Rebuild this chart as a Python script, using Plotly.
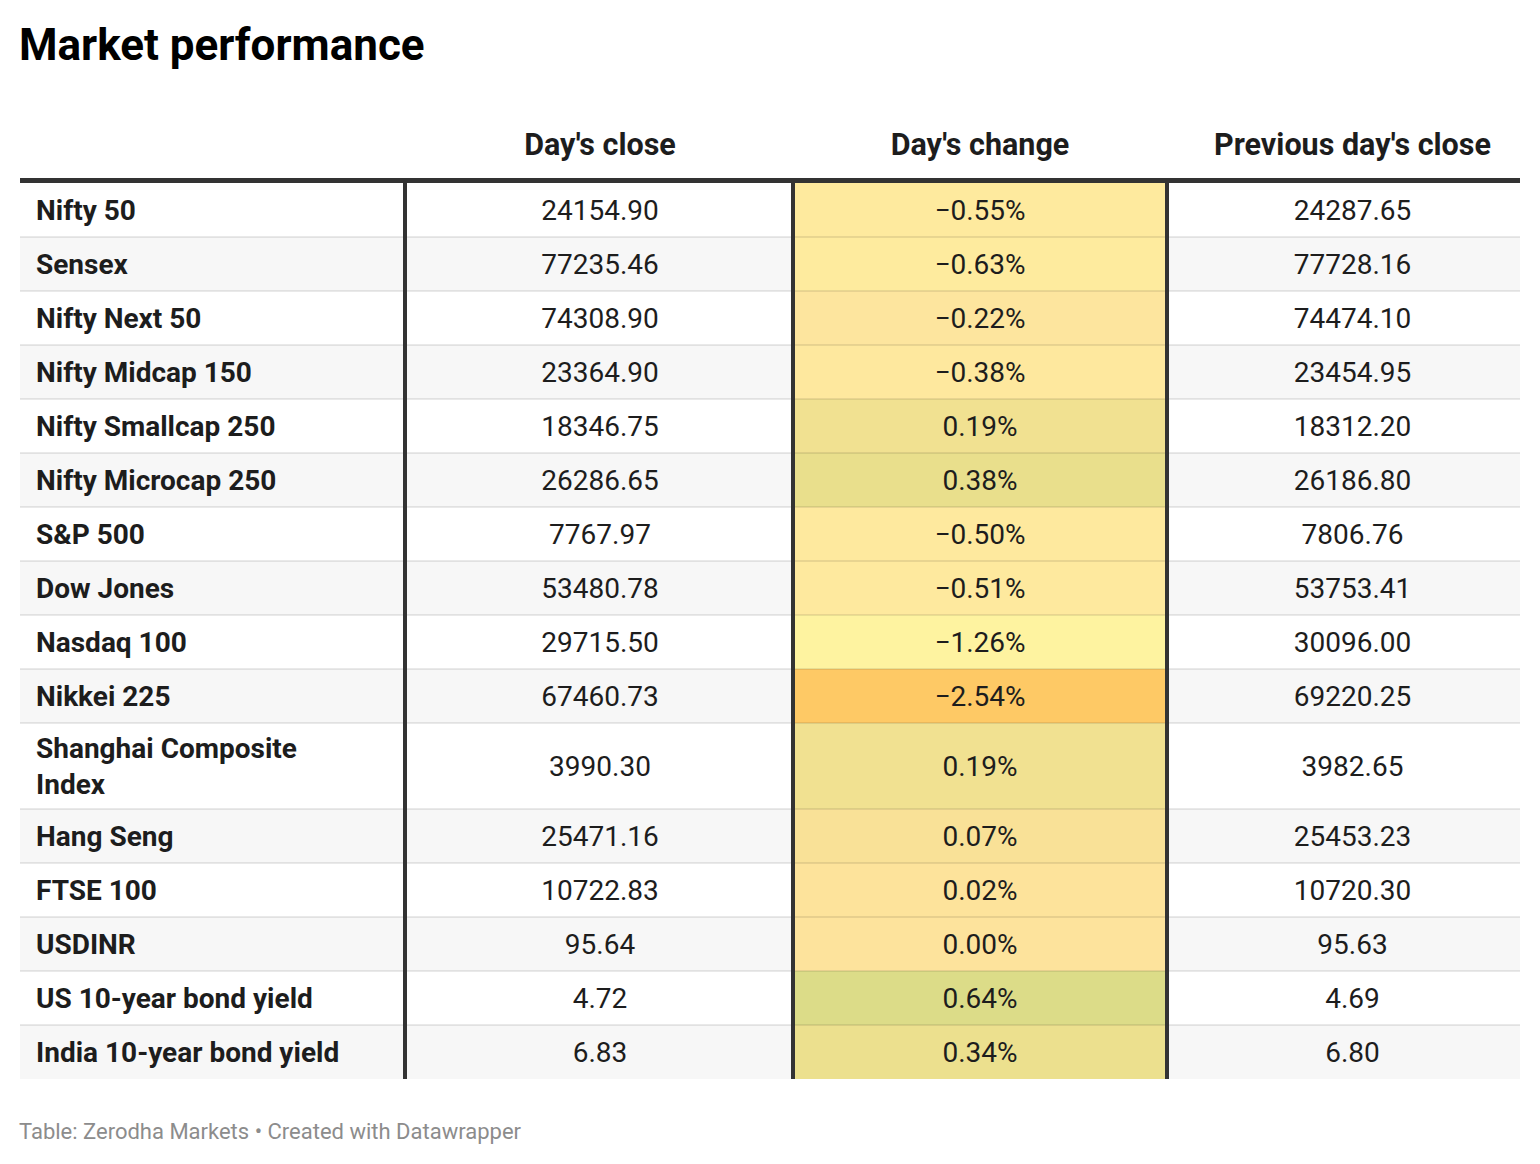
import plotly.graph_objects as go

# the page puts the plot div 8px in from the window edge
PAGE_PAD = 8
FIG_W, FIG_H = 1540 - 2 * PAGE_PAD, 1164 - 2 * PAGE_PAD

TITLE = "Market performance"
SOURCE = "Table: Zerodha Markets • Created with Datawrapper"
HEADERS = ["Day's close", "Day's change", "Previous day's close"]

INDICES = [
    "Nifty 50",
    "Sensex",
    "Nifty Next 50",
    "Nifty Midcap 150",
    "Nifty Smallcap 250",
    "Nifty Microcap 250",
    "S&P 500",
    "Dow Jones",
    "Nasdaq 100",
    "Nikkei 225",
    "Shanghai Composite<br>Index",
    "Hang Seng",
    "FTSE 100",
    "USDINR",
    "US 10-year bond yield",
    "India 10-year bond yield",
]
DAYS_CLOSE = [
    24154.90, 77235.46, 74308.90, 23364.90, 18346.75, 26286.65, 7767.97, 53480.78,
    29715.50, 67460.73, 3990.30, 25471.16, 10722.83, 95.64, 4.72, 6.83,
]
DAYS_CHANGE = [
    -0.55, -0.63, -0.22, -0.38, 0.19, 0.38, -0.50, -0.51,
    -1.26, -2.54, 0.19, 0.07, 0.02, 0.00, 0.64, 0.34,
]
PREV_CLOSE = [
    24287.65, 77728.16, 74474.10, 23454.95, 18312.20, 26186.80, 7806.76, 53753.41,
    30096.00, 69220.25, 3982.65, 25453.23, 10720.30, 95.63, 4.69, 6.80,
]
# background of the "Day's change" cells
CHANGE_FILL = [
    "#feea9e", "#feeb9e", "#fde59e", "#fee89e", "#f1e191", "#e9df8c", "#fee99e", "#fee99e",
    "#fef3a0", "#fec965", "#f1e191", "#f9e197", "#fde39b", "#fde39c", "#dcdc88", "#ece08e",
]

# layout, in window pixels
TABLE_LEFT = 20
BODY_TOP = 183
HEADER_TEXT_Y = 144
HEAD_SPACE = 100
COL_WIDTHS = [385, 388, 374, 353]
TEXT_SHIFT = [0, 1, 0, 9]
TEXT_DY = 3
LABEL_PAD = 16
ROW_H = 54
EXTRA_LINE_H = 32
TEXT = "#1d1d1d"
RULE = "#333333"
STRIPES = ["#ffffff", "#f7f7f7"]
FONT = "Roboto"


def paper_x(px):
    return (px - PAGE_PAD) / FIG_W


def paper_y(py):
    return 1 - (py - PAGE_PAD) / FIG_H


def fmt_change(v):
    return f"{v:.2f}%".replace("-", "\u2212")


n = len(INDICES)
row_h = [ROW_H + EXTRA_LINE_H * name.count("<br>") for name in INDICES]
row_top = [sum(row_h[:i]) for i in range(n)]
row_mid = [t + h / 2 for t, h in zip(row_top, row_h)]
text_y = [m + TEXT_DY for m in row_mid]
body_h = sum(row_h)
table_w = sum(COL_WIDTHS)
col_left = [sum(COL_WIDTHS[:i]) for i in range(len(COL_WIDTHS))]
col_mid = [l + w / 2 + s for l, w, s in zip(col_left, COL_WIDTHS, TEXT_SHIFT)]
stripe = [STRIPES[i % 2] for i in range(n)]

fig = go.Figure()

# cell backgrounds
fills = [stripe, stripe, CHANGE_FILL, stripe]
for left, width, colors in zip(col_left, COL_WIDTHS, fills):
    fig.add_trace(go.Bar(
        orientation="h", y=row_mid, x=[width] * n, base=[left] * n, width=row_h,
        marker={"color": colors, "line": {"width": 0}}, hoverinfo="skip", showlegend=False,
    ))

# light row separators
sep_x, sep_y = [], []
for t in row_top[1:]:
    sep_x += [0, table_w, None]
    sep_y += [t, t, None]
fig.add_trace(go.Scatter(x=sep_x, y=sep_y, mode="lines", hoverinfo="skip", showlegend=False,
                         line={"color": "rgba(0,0,0,0.085)", "width": 2}))

# dark column rules and header underline
rule_x, rule_y = [], []
for left in col_left[1:]:
    rule_x += [left, left, None]
    rule_y += [-3, body_h, None]
fig.add_trace(go.Scatter(x=rule_x, y=rule_y, mode="lines", hoverinfo="skip", showlegend=False,
                         line={"color": RULE, "width": 4}))
fig.add_trace(go.Scatter(x=[0, table_w], y=[-2.5, -2.5], mode="lines", hoverinfo="skip",
                         showlegend=False, line={"color": RULE, "width": 5}))

# header
fig.add_trace(go.Scatter(
    x=col_mid[1:], y=[HEADER_TEXT_Y - BODY_TOP + TEXT_DY] * len(HEADERS), mode="text",
    text=[f"<b>{h}</b>" for h in HEADERS], textposition="middle center",
    textfont={"family": FONT, "size": 30.5, "color": TEXT},
    hoverinfo="skip", showlegend=False, cliponaxis=False,
))

# row labels
fig.add_trace(go.Scatter(
    x=[LABEL_PAD] * n, y=text_y, mode="text",
    text=[f"<b>{name}</b>" for name in INDICES], textposition="middle right",
    textfont={"family": FONT, "size": 28, "color": TEXT},
    hoverinfo="skip", showlegend=False, cliponaxis=False,
))

# values
columns = [
    [f"{v:.2f}" for v in DAYS_CLOSE],
    [fmt_change(v) for v in DAYS_CHANGE],
    [f"{v:.2f}" for v in PREV_CLOSE],
]
for x, texts in zip(col_mid[1:], columns):
    fig.add_trace(go.Scatter(
        x=[x] * n, y=text_y, mode="text", text=texts, textposition="middle center",
        textfont={"family": FONT, "size": 28, "color": TEXT},
        hoverinfo="skip", showlegend=False, cliponaxis=False,
    ))

fig.update_layout(
    width=FIG_W,
    height=FIG_H,
    margin={"l": 0, "r": 0, "t": 0, "b": 0},
    paper_bgcolor="white",
    plot_bgcolor="white",
    barmode="overlay",
    xaxis={"domain": [paper_x(TABLE_LEFT), paper_x(TABLE_LEFT + table_w)], "range": [0, table_w],
           "visible": False, "fixedrange": True},
    yaxis={"domain": [paper_y(BODY_TOP + body_h), paper_y(HEAD_SPACE)],
           "range": [body_h, HEAD_SPACE - BODY_TOP], "visible": False, "fixedrange": True},
    annotations=[
        dict(text=f"<b>{TITLE}</b>", xref="paper", yref="paper", x=paper_x(TABLE_LEFT - 3),
             y=paper_y(45), xanchor="left", yanchor="middle", showarrow=False,
             font={"family": FONT, "size": 44, "color": "#000000"}),
        dict(text=SOURCE, xref="paper", yref="paper", x=paper_x(TABLE_LEFT - 3), y=paper_y(1131),
             xanchor="left", yanchor="middle", showarrow=False,
             font={"family": FONT, "size": 22, "color": "#8c8c8c"}),
    ],
)

fig.write_html("out.html")
